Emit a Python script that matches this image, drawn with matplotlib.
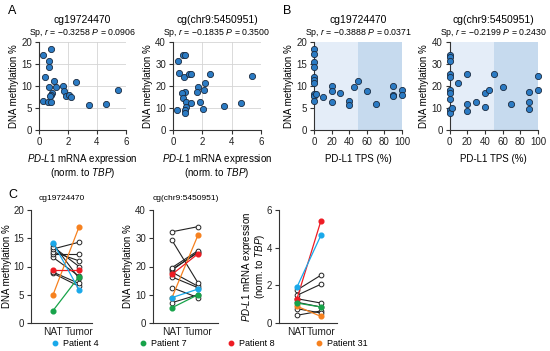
import matplotlib
matplotlib.use("Agg")
import matplotlib.pyplot as plt
from matplotlib.lines import Line2D
import numpy as np

plt.rcParams['font.family'] = ['Liberation Sans', 'DejaVu Sans']
plt.rcParams['mathtext.fontset'] = 'custom'
plt.rcParams['mathtext.rm'] = 'Liberation Sans'
plt.rcParams['mathtext.it'] = 'Liberation Sans:italic'
plt.rcParams['axes.unicode_minus'] = True

# ---------------- data ----------------
# Panel A: PD-L1 mRNA vs methylation
a1_x = [0.29, 0.82, 0.66, 0.71, 0.43, 1.04, 0.71, 1.16, 0.89, 0.82, 0.78, 1.68, 1.73, 1.84, 2.07, 2.23, 2.57, 0.25, 0.59, 0.82, 3.48, 4.64, 5.45]
a1_y = [17.1, 18.4, 15.6, 14.4, 12.1, 11.1, 9.85, 9.85, 8.5, 8.0, 7.7, 10.1, 8.9, 7.7, 7.9, 7.6, 10.8, 6.65, 6.4, 6.4, 5.6, 6.0, 9.2]
a2_x = [0.31, 0.70, 0.83, 0.43, 0.76, 1.10, 1.21, 2.52, 5.42, 0.83, 0.61, 0.70, 0.88, 1.21, 0.88, 0.83, 0.83, 0.25, 1.73, 1.64, 2.11, 2.18, 1.82, 2.04, 3.46, 4.63]
a2_y = [31.5, 34.1, 34.1, 25.8, 24.2, 25.5, 25.5, 25.5, 24.7, 17.4, 16.7, 14.4, 12.9, 12.1, 10.6, 9.1, 7.6, 9.1, 19.7, 17.4, 18.2, 21.2, 12.9, 9.4, 10.9, 12.1]
# Panel B: PD-L1 TPS vs methylation
b1_x = [0, 0, 0, 0, 0, 0, 0, 0, 0, 0, 2, 10, 20, 20, 20, 30, 40, 40, 45, 50, 60, 70, 90, 90, 90, 100, 100]
b1_y = [18.3, 17.2, 15.5, 14.4, 12.1, 11.4, 10.6, 8.2, 7.7, 6.65, 8.2, 7.6, 10.0, 8.9, 6.4, 8.5, 6.65, 5.7, 9.85, 11.2, 8.9, 5.9, 10.0, 7.95, 7.7, 9.1, 7.9]
b2_x = [0, 0, 0, 0, 0, 0, 0, 0, 0, 0, 2.5, 10, 20, 20, 20, 30, 40, 40, 45, 50, 60, 70, 90, 90, 90, 100, 100]
b2_y = [34.1, 33.0, 31.4, 25.5, 24.2, 18.2, 16.7, 14.1, 9.1, 7.6, 10.1, 21.2, 25.5, 11.8, 8.8, 12.6, 16.7, 10.6, 18.2, 25.5, 19.4, 11.8, 17.4, 12.6, 9.4, 24.5, 18.2]
b_split = [0, 50, 100]

# Panel C: paired NAT / Tumor (first four = Patients 4, 7, 8, 31)
c_groups = ['NAT', 'Tumor']
c1_nat = [14.2, 2.2, 9.3, 5.0, 14.0, 13.5, 13.1, 12.6, 12.2, 11.6, 9.0, 8.8]
c1_tum = [5.9, 8.2, 9.3, 17.0, 7.9, 10.0, 14.3, 11.0, 12.2, 8.3, 7.0, 6.5]
c2_nat = [9.0, 5.4, 17.2, 9.0, 32.3, 29.3, 19.6, 19.0, 18.7, 18.0, 16.3, 12.5, 7.2]
c2_tum = [12.0, 10.0, 24.5, 31.1, 34.1, 14.2, 25.6, 24.9, 25.2, 13.0, 12.5, 9.0, 10.0]
c3_nat = [1.91, 1.06, 1.29, 0.89, 1.47, 1.29, 0.76, 0.41, 1.1, 1.75]
c3_tum = [4.66, 0.85, 5.43, 0.35, 2.06, 1.06, 0.53, 0.64, 0.85, 2.54]
c_colors = ['#1aa9ea', '#17a34a', '#ee1c24', '#f6811f']
c_patients = ['Patient 4', 'Patient 7', 'Patient 8', 'Patient 31']

W, H = 550, 351
fig = plt.figure(figsize=(W / 100, H / 100), dpi=100)

def ax_px(l, r, t, b):
    return fig.add_axes([l / W, 1 - b / H, (r - l) / W, (b - t) / H])

FS = 7
SPC = '#333333'
PT = '#2b7bc4'
EC = '#1b2b40'
MRNA = '$\\it{PD}$-$\\it{L1}$ mRNA expression\n(norm. to $\\it{TBP}$)'

def style(ax, grid=False):
    for s in ['top', 'right']:
        ax.spines[s].set_visible(False)
    for s in ['left', 'bottom']:
        ax.spines[s].set_color(SPC)
        ax.spines[s].set_linewidth(0.8)
    ax.tick_params(direction='out', length=3, width=0.8, colors=SPC, labelsize=FS, pad=2,
                   labelcolor='#222222')
    if grid:
        ax.grid(True, color='#d4d4d4', linewidth=0.6)
        ax.set_axisbelow(True)

# ---- Panel A ----
a_titles = ['cg19724470', 'cg(chr9:5450951)']
a_stats = ['Sp, $\\it{r}$ = \u22120.3258 $\\it{P}$ = 0.0906', 'Sp, $\\it{r}$ = \u22120.1835 $\\it{P}$ = 0.3500']
b_stats = ['Sp, $\\it{r}$ = \u22120.3888 $\\it{P}$ = 0.0371', 'Sp, $\\it{r}$ = \u22120.2199 $\\it{P}$ = 0.2430']

axA1 = ax_px(39, 126, 42, 130)
axA2 = ax_px(173, 261, 42, 130)
for ax, xs, ys, ymax, yt, t, st in [(axA1, a1_x, a1_y, 20, [0, 5, 10, 15, 20], a_titles[0], a_stats[0]),
                                    (axA2, a2_x, a2_y, 40, [0, 10, 20, 30, 40], a_titles[1], a_stats[1])]:
    style(ax, grid=True)
    ax.scatter(xs, ys, s=20, color=PT, edgecolors=EC, linewidths=0.6, zorder=3, clip_on=False)
    ax.set_xlim(0, 6)
    ax.set_ylim(0, ymax)
    ax.set_xticks([0, 2, 4, 6])
    ax.set_yticks(yt)
    ax.set_ylabel('DNA methylation %', fontsize=FS, labelpad=2)
    ax.set_xlabel(MRNA, fontsize=FS, labelpad=4, linespacing=0.95)
    ax.text(0.5, 1.25, t, transform=ax.transAxes, ha='center', va='center', fontsize=7.5)
    ax.text(0.5, 1.1, st, transform=ax.transAxes, ha='center', va='center', fontsize=6.3)

# ---- Panel B ----
axB1 = ax_px(314, 402, 42, 130)
axB2 = ax_px(449.5, 538, 42, 130)
for ax, xs, ys, ymax, yt, t, st in [(axB1, b1_x, b1_y, 20, [0, 5, 10, 15, 20], a_titles[0], b_stats[0]),
                                    (axB2, b2_x, b2_y, 40, [0, 10, 20, 30, 40], a_titles[1], b_stats[1])]:
    style(ax)
    ax.axvspan(b_split[0], b_split[1], color='#e4edf8', zorder=0, lw=0)
    ax.axvspan(b_split[1], b_split[2], color='#c6daee', zorder=0, lw=0)
    ax.scatter(xs, ys, s=20, color=PT, edgecolors=EC, linewidths=0.6, zorder=3, clip_on=False)
    ax.set_xlim(0, 100)
    ax.set_ylim(0, ymax)
    ax.set_xticks([0, 20, 40, 60, 80, 100])
    ax.set_yticks(yt)
    ax.set_ylabel('DNA methylation %', fontsize=FS, labelpad=2)
    ax.set_xlabel('PD-L1 TPS (%)', fontsize=FS, labelpad=5)
    ax.text(0.5, 1.25, t, transform=ax.transAxes, ha='center', va='center', fontsize=7.5)
    ax.text(0.5, 1.1, st, transform=ax.transAxes, ha='center', va='center', fontsize=6.3)

# ---- Panel C ----
axC1 = ax_px(31, 92, 210, 323)
axC2 = ax_px(153, 218, 210, 323)
axC3 = ax_px(279, 337, 210, 323)
cfg = [(axC1, c1_nat, c1_tum, 20, [0, 5, 10, 15, 20], (-0.85, 1.5), 'DNA methylation %', 'cg19724470', 1),
       (axC2, c2_nat, c2_tum, 40, [0, 10, 20, 30, 40], (-0.73, 1.77), 'DNA methylation %', 'cg(chr9:5450951)', 2),
       (axC3, c3_nat, c3_tum, 6, [0, 2, 4, 6], (-0.75, 1.67), MRNA, None, 0)]
for ax, nat, tum, ymax, yt, xl, yl, t, lp in cfg:
    style(ax)
    n = len(nat)
    for i in range(n - 1, -1, -1):
        if i < 4:
            c = c_colors[i]
            ax.plot([0, 1], [nat[i], tum[i]], color=c, lw=0.9, zorder=4 + (4 - i))
            ax.plot([0, 1], [nat[i], tum[i]], ls='none', marker='o', ms=3.4, color=c,
                    mec=c, zorder=5 + (4 - i))
        else:
            ax.plot([0, 1], [nat[i], tum[i]], color='#222222', lw=0.8, zorder=2)
            ax.plot([0, 1], [nat[i], tum[i]], ls='none', marker='o', ms=3.4, mfc='white',
                    mec='#222222', mew=0.7, zorder=3)
    ax.set_xlim(*xl)
    ax.set_ylim(0, ymax)
    ax.set_yticks(yt)
    ax.set_xticks([0, 1])
    ax.set_xticklabels(c_groups, fontsize=7.3)
    ax.tick_params(axis='x', length=0, pad=3)
    ax.set_ylabel(yl, fontsize=FS, labelpad=lp, linespacing=0.9)
    if t:
        ax.text(0.5, 1.1, t, transform=ax.transAxes, ha='center', va='center', fontsize=6)

# legend
handles = [Line2D([], [], ls='none', marker='o', ms=3.2, color=c) for c in c_colors]
fig.legend(handles, c_patients, loc='center', bbox_to_anchor=(210 / W, 1 - 344 / H), ncol=4,
           frameon=False, fontsize=6.5, handlelength=0.6, handletextpad=0.6, columnspacing=4.6)

# panel letters
fig.text(8 / W, 1 - 11 / H, 'A', fontsize=9, ha='left', va='center')
fig.text(283 / W, 1 - 11 / H, 'B', fontsize=9, ha='left', va='center')
fig.text(8 / W, 1 - 195 / H, 'C', fontsize=9, ha='left', va='center')

fig.savefig('out.png', dpi=100)
